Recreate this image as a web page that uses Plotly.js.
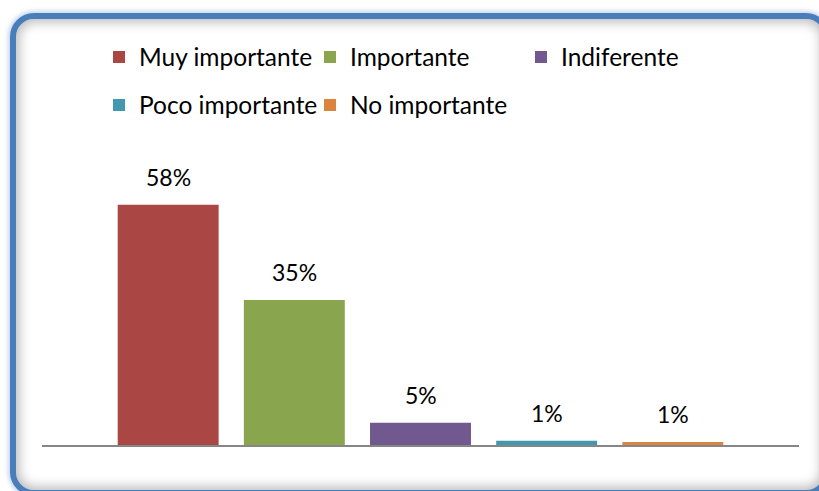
<!DOCTYPE html>
<html>
<head>
<meta charset="utf-8">
<script src="https://cdn.plot.ly/plotly-3.0.1.min.js"></script>
<style>
  html, body { margin: 0; padding: 0; width: 819px; height: 491px; overflow: hidden; background: #ffffff; }
  #frame {
    position: absolute; left: 10px; top: 13px; width: 820px; height: 483px;
    box-sizing: border-box; border: 6px solid #4a7ebb; border-radius: 24px;
    background: #ffffff;
    box-shadow: 0 0 4px 2px rgba(120,160,220,0.45), inset 0 0 12px 3px rgba(0,0,0,0.28);
  }
  #chart { position: absolute; left: 0; top: 0; width: 819px; height: 491px; }
</style>
</head>
<body>
<div id="frame"></div>
<div id="chart"></div>
<script>
// ---- data ----
const categories = ["Muy importante", "Importante", "Indiferente", "Poco importante", "No importante"];
const values = [58, 35, 5.4, 1, 0.7];
const colors = ["#AA4643", "#89A54E", "#71588F", "#4198AF", "#DB843D"];
const legendGroups = ["legend", "legend", "legend", "legend2", "legend2"];

const traces = categories.map((c, i) => ({
  type: "bar",
  name: c,
  x: [c],
  y: [values[i]],
  width: 0.8,
  marker: { color: colors[i], line: { width: 0 } },
  legend: legendGroups[i],
  hoverinfo: "none"
}));

const annotations = categories.map((c, i) => ({
  x: c, y: values[i], xref: "x", yref: "y",
  text: Math.round(values[i]) + "%",
  showarrow: false, yanchor: "middle", yshift: 28,
  font: { family: "Lato", size: 23, color: "#000000" }
}));

const legendFont = { family: "Lato", size: 24.5, color: "#000000" };
const layout = {
  width: 819, height: 491,
  margin: { l: 42, r: 20, t: 155, b: 46, pad: 0 },
  paper_bgcolor: "rgba(0,0,0,0)",
  plot_bgcolor: "rgba(0,0,0,0)",
  barmode: "overlay",
  showlegend: true,
  xaxis: {
    type: "category", range: [-1, 5],
    showline: true, linecolor: "#868686", linewidth: 2,
    showticklabels: false, ticks: "", showgrid: false, zeroline: false, fixedrange: true
  },
  yaxis: { range: [0, 70], visible: false, showgrid: false, zeroline: false, fixedrange: true },
  legend: {
    orientation: "h", xref: "container", yref: "container",
    x: 99 / 819, y: 1 - 57 / 491, xanchor: "left", yanchor: "middle",
    entrywidth: 166, entrywidthmode: "pixels",
    font: legendFont, bgcolor: "rgba(0,0,0,0)", traceorder: "normal"
  },
  legend2: {
    orientation: "h", xref: "container", yref: "container",
    x: 99 / 819, y: 1 - 105 / 491, xanchor: "left", yanchor: "middle",
    entrywidth: 166, entrywidthmode: "pixels",
    font: legendFont, bgcolor: "rgba(0,0,0,0)", traceorder: "normal"
  },
  annotations: annotations
};

Plotly.newPlot("chart", traces, layout, { staticPlot: true, displayModeBar: false });
</script>
</body>
</html>
